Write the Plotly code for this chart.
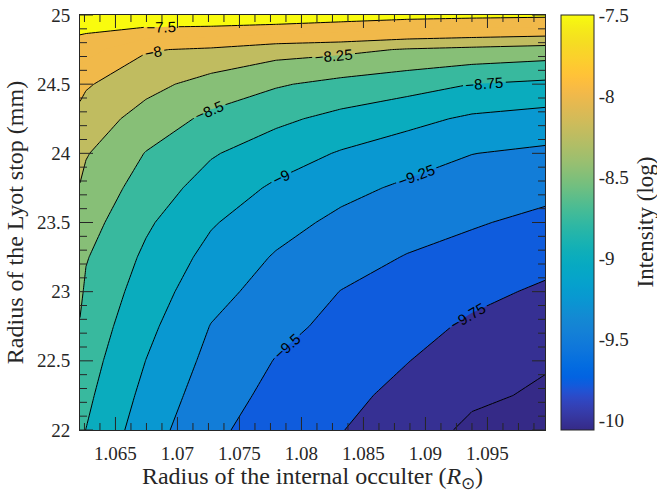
import numpy as np
import plotly.graph_objects as go

# ---------------- data ----------------
occulter_radius = [1.06214, 1.06262, 1.06746, 1.07270, 1.07794, 1.08319, 1.08851, 1.09375, 1.09964]
lyot_radius = [22.0, 22.25, 22.5, 22.75, 23.0, 23.25, 23.5, 23.75, 24.0, 24.25, 24.5, 24.75, 25.0]

row_2200 = [-8.720, -8.752, -9.135, -9.444, -9.625, -9.741, -9.900, -10.040, -10.060]
row_2225 = [-8.652, -8.699, -9.069, -9.383, -9.567, -9.682, -9.821, -9.965, -10.027]
row_2250 = [-8.584, -8.647, -9.003, -9.320, -9.510, -9.623, -9.743, -9.876, -9.982]
row_2275 = [-8.516, -8.594, -8.934, -9.258, -9.433, -9.564, -9.666, -9.788, -9.884]
row_2300 = [-8.452, -8.542, -8.864, -9.169, -9.352, -9.505, -9.589, -9.690, -9.786]
row_2325 = [-8.390, -8.484, -8.795, -9.076, -9.271, -9.407, -9.511, -9.585, -9.676]
row_2350 = [-8.327, -8.402, -8.713, -8.977, -9.160, -9.307, -9.404, -9.478, -9.559]
row_2375 = [-8.264, -8.320, -8.611, -8.855, -9.038, -9.180, -9.292, -9.363, -9.432]
row_2400 = [-8.167, -8.233, -8.510, -8.727, -8.882, -9.020, -9.132, -9.246, -9.295]
row_2425 = [-8.080, -8.112, -8.350, -8.557, -8.698, -8.820, -8.927, -9.040, -9.097]
row_2450 = [-7.920, -7.974, -8.172, -8.346, -8.474, -8.572, -8.651, -8.752, -8.802]
row_2475 = [-7.612, -7.647, -7.980, -8.038, -8.150, -8.189, -8.268, -8.311, -8.358]
row_2500 = [-7.350, -7.330, -7.240, -7.240, -7.260, -7.330, -7.390, -7.420, -7.440]

intensity = [row_2200, row_2225, row_2250, row_2275, row_2300, row_2325, row_2350,
             row_2375, row_2400, row_2425, row_2450, row_2475, row_2500]

levels_low = [-10.0, -9.75, -9.5, -9.25, -9.0, -8.75, -8.5, -8.25, -8.0]
level_top = -7.5
clim = [-10.06, -7.5]

cbar_tickvals = [-10, -9.5, -9, -8.5, -8, -7.5]
cbar_ticktext = ["-10", "-9.5", "-9", "-8.5", "-8", "-7.5"]

x_tick0, x_dtick, x_minor = 1.065, 0.005, 0.00125
y_tick0, y_dtick, y_minor = 22.0, 0.5, 0.1

# ---------------- parula colormap (MATLAB, 64 entries) ----------------
PARULA = [
    [0.2081, 0.1663, 0.5292], [0.2116, 0.1898, 0.5777], [0.2123, 0.2138, 0.6270], [0.2081, 0.2386, 0.6771],
    [0.1959, 0.2645, 0.7279], [0.1707, 0.2919, 0.7792], [0.1253, 0.3242, 0.8303], [0.0591, 0.3598, 0.8683],
    [0.0117, 0.3875, 0.8820], [0.0060, 0.4086, 0.8828], [0.0165, 0.4266, 0.8786], [0.0329, 0.4430, 0.8720],
    [0.0498, 0.4586, 0.8641], [0.0629, 0.4737, 0.8554], [0.0723, 0.4887, 0.8467], [0.0779, 0.5040, 0.8384],
    [0.0793, 0.5200, 0.8312], [0.0749, 0.5375, 0.8263], [0.0641, 0.5570, 0.8240], [0.0488, 0.5772, 0.8228],
    [0.0343, 0.5966, 0.8199], [0.0265, 0.6137, 0.8135], [0.0239, 0.6287, 0.8038], [0.0231, 0.6418, 0.7913],
    [0.0228, 0.6535, 0.7768], [0.0267, 0.6642, 0.7607], [0.0384, 0.6743, 0.7436], [0.0590, 0.6838, 0.7254],
    [0.0843, 0.6928, 0.7062], [0.1133, 0.7015, 0.6859], [0.1453, 0.7098, 0.6646], [0.1801, 0.7177, 0.6424],
    [0.2178, 0.7250, 0.6193], [0.2586, 0.7317, 0.5954], [0.3022, 0.7376, 0.5712], [0.3482, 0.7424, 0.5473],
    [0.3953, 0.7459, 0.5244], [0.4420, 0.7481, 0.5033], [0.4871, 0.7491, 0.4840], [0.5300, 0.7491, 0.4661],
    [0.5709, 0.7485, 0.4494], [0.6099, 0.7473, 0.4337], [0.6473, 0.7456, 0.4188], [0.6834, 0.7435, 0.4044],
    [0.7184, 0.7411, 0.3905], [0.7525, 0.7384, 0.3768], [0.7858, 0.7356, 0.3633], [0.8185, 0.7327, 0.3498],
    [0.8507, 0.7299, 0.3360], [0.8824, 0.7274, 0.3217], [0.9139, 0.7258, 0.3063], [0.9450, 0.7261, 0.2886],
    [0.9739, 0.7314, 0.2666], [0.9938, 0.7455, 0.2403], [0.9990, 0.7653, 0.2164], [0.9955, 0.7861, 0.1967],
    [0.9880, 0.8066, 0.1794], [0.9789, 0.8271, 0.1633], [0.9697, 0.8481, 0.1475], [0.9626, 0.8705, 0.1309],
    [0.9589, 0.8949, 0.1132], [0.9598, 0.9218, 0.0948], [0.9661, 0.9514, 0.0755], [0.9763, 0.9831, 0.0538],
]


def rgb(c):
    return "rgb(%d,%d,%d)" % tuple(int(round(255 * v)) for v in c)


def parula_at(v):
    t = (v - clim[0]) / (clim[1] - clim[0])
    idx = int(min(max(np.floor(t * 64), 0), 63))
    return rgb(PARULA[idx])


band_lower = [clim[0]] + levels_low + [levels_low[-1], level_top]
n_bands = len(band_lower)
fill_scale = [[k / (n_bands - 1), parula_at(v)] for k, v in enumerate(band_lower)]
cbar_scale = [[i / 63, rgb(c)] for i, c in enumerate(PARULA)]

AX = "#262626"
SERIF = "Liberation Serif"

L, R, T, B = 80, 112, 15, 63
W, H = 657, 493
pw, ph = W - L - R, H - T - B

xr = [occulter_radius[0], occulter_radius[-1]]
yr = [lyot_radius[0], lyot_radius[-1]]

fig = go.Figure()

fig.add_trace(go.Contour(
    x=occulter_radius, y=lyot_radius, z=intensity,
    autocontour=False,
    contours=dict(start=-10.0, end=-7.5, size=0.25, coloring="fill", showlines=False),
    colorscale=fill_scale, showscale=False,
    line=dict(smoothing=0, width=0),
    hoverinfo="skip", showlegend=False,
))

labelfont = dict(family="Liberation Sans", size=15, color="black")

fig.add_trace(go.Contour(
    x=occulter_radius, y=lyot_radius, z=intensity,
    autocontour=False,
    contours=dict(start=levels_low[0], end=levels_low[-1], size=0.25, coloring="none",
                  showlabels=True, labelfont=labelfont, labelformat=".4~g"),
    line=dict(color="black", width=1, smoothing=0),
    showscale=False, hoverinfo="skip", showlegend=False,
))

fig.add_trace(go.Contour(
    x=occulter_radius, y=lyot_radius, z=intensity,
    autocontour=False,
    contours=dict(start=level_top, end=level_top, size=0.25, coloring="none",
                  showlabels=True, labelfont=labelfont, labelformat=".4~g"),
    line=dict(color="black", width=1, smoothing=0),
    showscale=False, hoverinfo="skip", showlegend=False,
))

# ---------------- inward tick marks on all four sides (axis decoration) ----------------
MAJ, MIN = 13, 7
dx_px = (xr[1] - xr[0]) / pw
dy_px = (yr[1] - yr[0]) / ph


def tick_values(lo, hi, t0, step):
    k0 = int(np.ceil((lo - t0) / step - 1e-9))
    k1 = int(np.floor((hi - t0) / step + 1e-9))
    return [t0 + k * step for k in range(k0, k1 + 1)]


def is_major(v, t0, step):
    r = (v - t0) / step
    return abs(r - round(r)) < 1e-6


tx, ty = [], []
for v in tick_values(xr[0], xr[1], x_tick0, x_minor):
    ln = (MAJ if is_major(v, x_tick0, x_dtick) else MIN) * dy_px
    tx += [v, v, None, v, v, None]
    ty += [yr[0], yr[0] + ln, None, yr[1], yr[1] - ln, None]
for v in tick_values(yr[0], yr[1], y_tick0, y_minor):
    ln = (MAJ if is_major(v, y_tick0, y_dtick) else MIN) * dx_px
    tx += [xr[0], xr[0] + ln, None, xr[1], xr[1] - ln, None]
    ty += [v, v, None, v, v, None]

fig.add_trace(go.Scatter(x=tx, y=ty, mode="lines", line=dict(color=AX, width=1),
                         hoverinfo="skip", showlegend=False, cliponaxis=False))

# continuous colour bar
fig.add_trace(go.Scatter(
    x=[None], y=[None], mode="markers", showlegend=False, hoverinfo="skip",
    marker=dict(color=[-9.0], cmin=clim[0], cmax=clim[1], colorscale=cbar_scale, showscale=True,
                colorbar=dict(x=(561 - L) / pw, xanchor="left", y=0.5, yanchor="middle",
                              len=1, lenmode="fraction", thickness=33, thicknessmode="pixels",
                              xpad=0, ypad=0, outlinewidth=1, outlinecolor=AX,
                              tickmode="array", tickvals=cbar_tickvals, ticktext=cbar_ticktext,
                              ticks="", tickfont=dict(family=SERIF, size=19, color=AX))),
))

fig.update_layout(
    template="none",
    width=W, height=H,
    margin=dict(l=L, r=R, t=T, b=B, pad=0),
    paper_bgcolor="white", plot_bgcolor="white",
    showlegend=False,
    font=dict(family=SERIF, color=AX),
    xaxis=dict(range=xr, tickmode="linear", tick0=x_tick0, dtick=x_dtick, ticks="",
               showline=True, linecolor=AX, linewidth=1, mirror=True,
               showgrid=False, zeroline=False, automargin=False, ticklabelstandoff=6,
               tickformat=".4~g", tickfont=dict(family=SERIF, size=19, color=AX),
               title=dict(text="Radius of the internal occulter (<i>R</i><sub>⊙</sub>)",
                          font=dict(family=SERIF, size=24, color=AX), standoff=2)),
    yaxis=dict(range=yr, tickmode="linear", tick0=y_tick0, dtick=y_dtick, ticks="",
               showline=True, linecolor=AX, linewidth=1, mirror=True,
               showgrid=False, zeroline=False, automargin=False, ticklabelstandoff=5,
               tickformat=".4~g", tickfont=dict(family=SERIF, size=19, color=AX),
               title=dict(text="Radius of the Lyot stop (mm)",
                          font=dict(family=SERIF, size=24, color=AX), standoff=6)),
    annotations=[dict(text="Intensity (log)", x=(645 - L) / pw, y=0.5, xref="paper", yref="paper",
                      xanchor="center", yanchor="middle", textangle=-90, showarrow=False,
                      font=dict(family=SERIF, size=23, color=AX))],
)

fig.write_html("out.html")
